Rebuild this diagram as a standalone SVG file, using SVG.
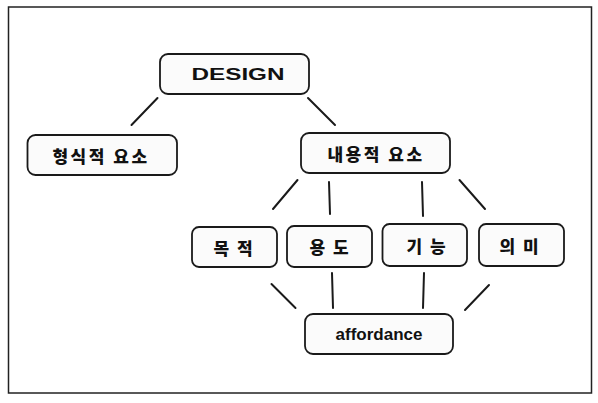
<svg xmlns="http://www.w3.org/2000/svg" width="598" height="403" viewBox="0 0 598 403">
<style>
.box{fill:#fbfbfb;stroke:#1a1a1a;stroke-width:1.8}
.lbl{font-family:"Liberation Sans","Noto Sans CJK KR",sans-serif;font-weight:bold;fill:#111;text-anchor:middle;dominant-baseline:central}
.ko{font-family:"Noto Sans CJK KR","Liberation Sans",sans-serif;font-weight:900;font-size:17px;fill:#111;text-anchor:middle;dominant-baseline:central}
.con line{stroke:#1a1a1a;stroke-width:2;stroke-linecap:round}
</style>
<rect x="0" y="0" width="598" height="403" fill="#fff"/>
<rect x="8.5" y="7" width="583" height="386" fill="none" stroke="#222" stroke-width="1.5"/>
<g class="con">
<line x1="157.5" y1="98" x2="131.5" y2="125"/>
<line x1="308" y1="98" x2="335" y2="125"/>
<line x1="297.5" y1="180" x2="273" y2="209"/>
<line x1="329" y1="182" x2="330" y2="214"/>
<line x1="422" y1="182" x2="423" y2="216"/>
<line x1="459.5" y1="180" x2="485" y2="209"/>
<line x1="271.5" y1="284" x2="295.5" y2="308"/>
<line x1="332" y1="273" x2="333" y2="308"/>
<line x1="424" y1="273" x2="423" y2="308"/>
<line x1="489" y1="285" x2="465" y2="310"/>
</g>
<g id="design">
<rect class="box" x="160" y="54" width="149" height="40" rx="8"/>
<text class="lbl" x="238" y="74" font-size="16" textLength="93" lengthAdjust="spacingAndGlyphs">DESIGN</text>
</g>
<g id="formal">
<rect class="box" x="27.5" y="135" width="149.5" height="40" rx="8"/>
<text class="ko" x="101" y="155" letter-spacing="2.5">형식적 요소</text>
</g>
<g id="content">
<rect class="box" x="301" y="133" width="149" height="40" rx="8"/>
<text class="ko" x="376" y="153" letter-spacing="2.5">내용적 요소</text>
</g>
<g id="purpose">
<rect class="box" x="192" y="227" width="85" height="40" rx="7"/>
<text class="ko" x="234" y="247" letter-spacing="2">목 적</text>
</g>
<g id="use">
<rect class="box" x="287" y="226" width="85" height="41" rx="7"/>
<text class="ko" x="330" y="246.5" letter-spacing="2">용 도</text>
</g>
<g id="function">
<rect class="box" x="382.5" y="224" width="84.5" height="42" rx="7"/>
<text class="ko" x="427" y="245" letter-spacing="2">기 능</text>
</g>
<g id="meaning">
<rect class="box" x="479" y="224" width="85" height="42" rx="7"/>
<text class="ko" x="520" y="245" letter-spacing="2">의 미</text>
</g>
<g id="affordance">
<rect class="box" x="305" y="314" width="148" height="40" rx="8"/>
<text class="lbl" x="379" y="334" font-size="17">affordance</text>
</g>
</svg>
